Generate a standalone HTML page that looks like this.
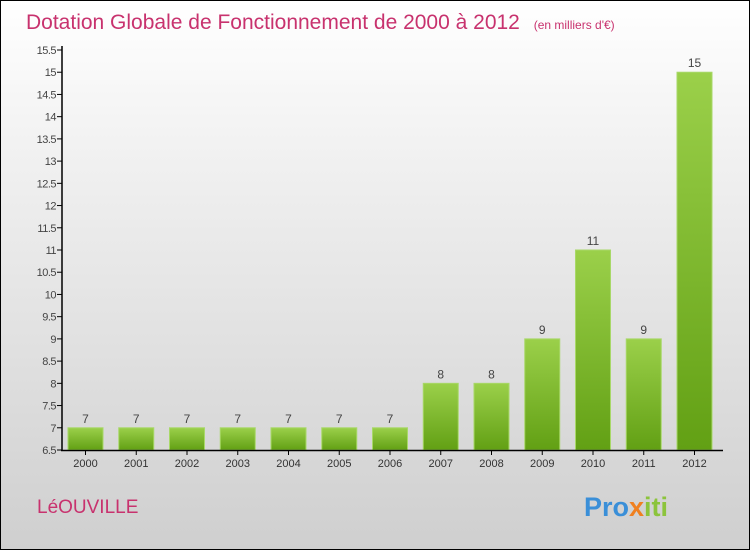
<!DOCTYPE html>
<html><head><meta charset="utf-8"><style>
body{margin:0}
#c{position:relative;width:748px;height:548px;border:1px solid #000;background:linear-gradient(#fff,#f0f0f0 30%,#cfcfcf);font-family:"Liberation Sans",sans-serif;overflow:hidden}
</style></head><body>
<div id="c">
<svg id="s" width="748" height="548" xmlns="http://www.w3.org/2000/svg">
<defs><linearGradient id="g" x1="0" y1="0" x2="0" y2="1"><stop offset="0" stop-color="#9bd04a"/><stop offset="1" stop-color="#62a014"/></linearGradient></defs>
<text x="25" y="28" font-size="21" fill="#c8326e">Dotation Globale de Fonctionnement de 2000 à 2012 <tspan font-size="12" dx="8">(en milliers d'€)</tspan></text>
<text x="36" y="512" font-size="19" fill="#c8326e">LéOUVILLE</text>
<text x="583" y="515" font-size="27" font-weight="bold" fill="#3a8fd8">Pro<tspan fill="#f08020">x</tspan><tspan fill="#8cc43c">iti</tspan></text>
<g id="plot"></g>
</svg></div>
<script>
const categories=["2000","2001","2002","2003","2004","2005","2006","2007","2008","2009","2010","2011","2012"];
const values=[7,7,7,7,7,7,7,8,8,9,11,9,15];
const valueLabels=["7","7","7","7","7","7","7","8","8","9","11","9","15"];
const yTicks=[6.5,7,7.5,8,8.5,9,9.5,10,10.5,11,11.5,12,12.5,13,13.5,14,14.5,15,15.5];
const NS="http://www.w3.org/2000/svg",p=document.getElementById('plot');
const y=v=>449-(v-6.5)/9*400, x=i=>67+i*50.75;
function mk(t,a){const e=document.createElementNS(NS,t);for(const k in a)e.setAttribute(k,a[k]);p.appendChild(e);return e;}
yTicks.forEach(t=>{
 const l=mk('line',{x1:56,x2:61,y1:y(t),y2:y(t),stroke:'#000'});
 
 
 const tx=mk('text',{x:55,y:y(t)+4,'text-anchor':'end','font-size':11,fill:'#444','letter-spacing':'-0.5'});
 tx.textContent=String(t);
 
 
});
categories.forEach((c,i)=>{
 const b=mk('rect',{x:x(i),y:y(values[i]),width:35,height:449-y(values[i]),fill:'url(#g)',stroke:'#a8d868','stroke-width':1});
 
 
 const v=mk('text',{x:x(i)+17.5,y:y(values[i])-5,'text-anchor':'middle','font-size':12,fill:'#444'});
 v.textContent=valueLabels[i];
 
 
 const tk=mk('line',{x1:x(i)+17.5,x2:x(i)+17.5,y1:449,y2:454,stroke:'#000'});
 
 
 const l=mk('text',{x:x(i)+17.5,y:466,'text-anchor':'middle','font-size':11,fill:'#333'});
 l.textContent=c;
 
 
});
const ya=mk('line',{x1:61,x2:61,y1:45,y2:450,stroke:'#000','stroke-width':1.5});


const xa=mk('line',{x1:60,x2:722,y1:449.5,y2:449.5,stroke:'#000','stroke-width':1.5});


</script>
</body></html>
